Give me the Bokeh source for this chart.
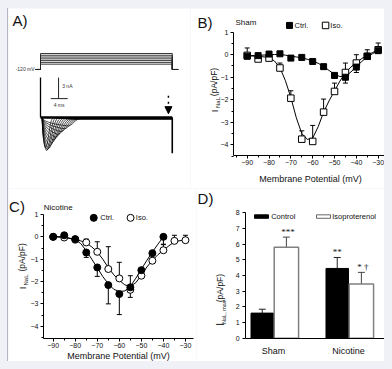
import math
from bokeh.plotting import figure
from bokeh.layouts import column, row
from bokeh.models import (Range1d, FixedTicker, Label, LabelSet, Whisker, TeeHead,
                          ColumnDataSource, Arrow, NormalHead)
from bokeh.core.properties import value
from bokeh.transform import dodge
from bokeh.embed import file_html
from bokeh.resources import INLINE

FONT = "Liberation Sans"

# ---------------- Panel A: protocol + raw current traces ----------------
step_mv = [-90, -80, -70, -60, -50, -40, -30]
hold_mv = -120
pulse_ms = [0.0, 31.0]
trace_onset_ms = [0.4, 0.4, 0.4, 0.4, 0.4, 0.4, 0.4, 0.4, 0.4, 0.4, 0.4, 0.4]
trace_peak_ms = [1.2, 1.4, 1.6, 1.9, 2.2, 2.6, 3.0, 3.5, 4.1, 4.8, 5.6, 6.5]
trace_peak_nA = [-4.3, -4.7, -4.6, -4.4, -4.0, -3.6, -3.2, -2.8, -2.4, -2.0, -1.6, -1.2]
trace_end_ms = [3.0, 3.6, 4.2, 4.8, 5.4, 6.0, 6.6, 7.2, 7.8, 8.4, 9.0, 9.6]
trace_late_nA = [-0.05, -0.08, -0.1, -0.12, -0.14, -0.16, -0.18, -0.2, -0.2, -0.2, -0.18, -0.15]
cap_spike_nA = 5.7
tail_spike_nA = -5.1
scale_nA = 3
scale_ms = 4

# ---------------- Panel B: Sham I-V ----------------
b_mv = [-90, -85, -80, -75, -70, -65, -60, -55, -50, -45, -40, -35, -30]
b_ctrl = [-0.07, -0.04, 0.03, 0.04, -0.15, -0.12, -0.3, -0.53, -0.92, -1.0, -0.55, -0.07, 0.18]
b_ctrl_err = [0.03, 0.03, 0.03, 0.03, 0.05, 0.05, 0.06, 0.1, 0.12, 0.26, 0.24, 0.1, 0.1]
b_iso = [-0.03, -0.19, -0.15, -0.59, -1.93, -3.75, -3.85, -2.55, -1.63, -0.79, -0.37, -0.07, 0.22]
b_iso_err = [0.33, 0.05, 0.05, 0.22, 0.33, 0.37, 0.71, 0.58, 0.37, 0.42, 0.37, 0.29, 0.3]
b_fit_mv = [-90, -85, -80, -77.5, -75, -72.5, -70, -67.5, -65, -62.5, -60, -57.5, -55,
            -52.5, -50, -47.5, -45, -42.5, -40, -37.5, -35, -32.5, -30]
b_fit_iso = [-0.05, -0.07, -0.12, -0.28, -0.58, -1.15, -1.9, -2.8, -3.5, -3.76, -3.7, -3.2,
             -2.55, -2.05, -1.6, -1.17, -0.8, -0.55, -0.35, -0.17, -0.03, 0.1, 0.22]
b_fit_ctrl = [-0.04, -0.03, 0.0, 0.01, 0.01, -0.02, -0.06, -0.1, -0.14, -0.2, -0.28, -0.38,
              -0.52, -0.7, -0.87, -0.97, -0.95, -0.77, -0.52, -0.3, -0.1, 0.05, 0.18]

# ---------------- Panel C: Nicotine I-V ----------------
c_mv_ctrl = [-90, -85, -80, -75, -70, -65, -60, -55, -50, -45, -40]
c_ctrl = [0.0, 0.07, -0.1, -0.7, -1.37, -2.16, -2.56, -2.26, -1.49, -0.73, 0.0]
c_ctrl_err = [0.05, 0.05, 0.1, 0.22, 0.4, 0.84, 0.92, 0.45, 0.33, 0.25, 0.33]
c_mv_iso = [-90, -85, -80, -75, -70, -65, -60, -55, -50, -45, -40, -35, -30]
c_iso = [0.0, -0.03, -0.13, -0.25, -0.67, -1.44, -1.86, -2.37, -1.74, -1.07, -0.6, -0.18, -0.15]
c_iso_err = [0.1, 0.05, 0.05, 0.15, 0.45, 1.0, 0.72, 0.63, 0.3, 0.1, 0.25, 0.25, 0.22]
c_fit_ctrl_mv = [-90, -85, -80, -77.5, -75, -72.5, -70, -67.5, -65, -62.5, -60, -57.5, -55,
                 -52.5, -50, -47.5, -45, -42.5, -40]
c_fit_ctrl = [0.02, 0.0, -0.12, -0.3, -0.62, -1.0, -1.38, -1.78, -2.1, -2.35, -2.45, -2.42,
              -2.22, -1.85, -1.45, -1.05, -0.68, -0.33, 0.0]
c_fit_iso_mv = [-90, -85, -80, -77.5, -75, -72.5, -70, -67.5, -65, -62.5, -60, -57.5, -55,
                -52.5, -50, -47.5, -45, -42.5, -40, -37.5, -35, -32.5, -30]
c_fit_iso = [0.0, -0.03, -0.12, -0.18, -0.27, -0.45, -0.68, -1.0, -1.38, -1.7, -1.95, -2.15,
             -2.22, -2.05, -1.72, -1.35, -1.05, -0.8, -0.6, -0.4, -0.22, -0.17, -0.15]

# ---------------- Panel D: peak INaL bars ----------------
d_groups = ["Sham", "Nicotine"]
d_ctrl = [1.6, 4.45]
d_ctrl_err = [0.25, 0.7]
d_iso = [5.8, 3.45]
d_iso_err = [0.65, 0.75]
d_ctrl_sig = ["", "**"]
d_iso_sig = ["***", "* \u2020"]


def base_fig(**kw):
    p = figure(output_backend="svg", toolbar_location=None, min_border=0, **kw)
    p.grid.visible = False
    p.outline_line_color = None
    p.background_fill_color = "white"
    p.border_fill_color = "white"
    return p


def style_axes(p, x_at, y_at, xb, yb):
    for ax in p.axis:
        ax.axis_line_color = "black"
        ax.axis_line_width = 1
        ax.major_tick_line_color = "black"
        ax.minor_tick_line_color = "black"
        ax.major_tick_out = 3
        ax.major_tick_in = 0
        ax.minor_tick_out = 2
        ax.minor_tick_in = 0
        ax.major_label_text_font = FONT
        ax.major_label_text_font_size = "7px"
        ax.major_label_text_color = "#111111"
        ax.major_label_standoff = 2
    p.xaxis.fixed_location = x_at
    p.yaxis.fixed_location = y_at
    p.xaxis.bounds = xb
    p.yaxis.bounds = yb


def txt(p, x, y, text, size, align="left", baseline="middle", angle=0.0, color="#111111"):
    p.add_layout(Label(x=x, y=y, text=text, text_font=FONT, text_font_size=size,
                       text_align=align, text_baseline=baseline, angle=angle,
                       text_color=color))


# ======================= Panel A =======================
pa = base_fig(width=182, height=180, x_range=Range1d(-7.53, 35.29),
              y_range=Range1d(-10.14, 15.57), x_axis_type=None, y_axis_type=None)
pa.extra_y_ranges = {"mv": Range1d(-789.4, 223.1)}
pre_ms, post_ms = pulse_ms[0] - 1.2, pulse_ms[1] + 1.4
pa.multi_line(xs=[[pre_ms, pulse_ms[0], pulse_ms[0], pulse_ms[1], pulse_ms[1], post_ms]
                  for _ in step_mv],
              ys=[[hold_mv, hold_mv, v, v, hold_mv, hold_mv] for v in step_mv],
              y_range_name="mv", line_color="#222222", line_width=0.9)
pa.add_layout(Label(x=pre_ms - 0.2, y=hold_mv, y_range_name="mv", text="-120 mV",
                    text_font=FONT, text_font_size="5px", text_align="right",
                    text_baseline="middle", text_color="#333333"))

src_tr = ColumnDataSource(dict(
    on=trace_onset_ms, pk=trace_peak_ms, pi=trace_peak_nA, en=trace_end_ms, late=trace_late_nA,
    zero=[0.0] * len(trace_peak_ms),
    c0x=[o + 0.1 for o in trace_onset_ms],
    c0y=[v * 0.7 for v in trace_peak_nA],
    c1x=[t - 0.25 for t in trace_peak_ms],
    r0x=[t + 0.35 * (e - t) for t, e in zip(trace_peak_ms, trace_end_ms)],
    r1x=[e - 0.5 * (e - t) for t, e in zip(trace_peak_ms, trace_end_ms)],
    fin=[pulse_ms[1]] * len(trace_peak_ms),
))
pa.bezier(x0="on", y0="zero", x1="pk", y1="pi", cx0="c0x", cy0="c0y", cx1="c1x", cy1="pi",
          source=src_tr, line_color="black", line_width=0.7)
pa.bezier(x0="pk", y0="pi", x1="en", y1="late", cx0="r0x", cy0="pi", cx1="r1x", cy1="late",
          source=src_tr, line_color="black", line_width=0.7)
pa.segment(x0="en", y0="late", x1="fin", y1="late", source=src_tr, line_color="black",
           line_width=0.7)
pa.line(x=pulse_ms, y=[0, 0], line_color="black", line_width=2.5)
pa.segment(x0=[pulse_ms[0]], y0=[0], x1=[pulse_ms[0]], y1=[cap_spike_nA],
           line_color="black", line_width=1.3)
pa.segment(x0=[pulse_ms[1]], y0=[0], x1=[pulse_ms[1]], y1=[tail_spike_nA],
           line_color="black", line_width=1.6)
# scale bar
sb_t, sb_i = 2.4, 2.7
pa.segment(x0=[sb_t], y0=[sb_i], x1=[sb_t + scale_ms], y1=[sb_i], line_color="#222222",
           line_width=1)
pa.segment(x0=[sb_t + 1.85], y0=[sb_i], x1=[sb_t + 1.85], y1=[sb_i + scale_nA],
           line_color="#222222", line_width=1)
txt(pa, sb_t + 2.7, sb_i + 1.85, f"{scale_nA} nA", "5px", color="#333333")
txt(pa, sb_t + 0.7, sb_i - 0.85, f"{scale_ms} ms", "5px", color="#333333")
pa.add_layout(Arrow(end=NormalHead(size=7, fill_color="black", line_color="black"),
                    x_start=30.1, y_start=3.1, x_end=30.1, y_end=0.55,
                    line_dash="dotted", line_width=1.5, line_color="black"))
txt(pa, -6.6, 15.0, "A)", "15px", baseline="top")

# ======================= Panel B =======================
pb = base_fig(width=202, height=180, x_range=Range1d(-115.97, -23.44),
              y_range=Range1d(-5.94, 2.052))
style_axes(pb, x_at=-4.47, y_at=-96.3, xb=(-96.3, -25.7), yb=(-4.47, 1.0))
pb.xaxis.ticker = FixedTicker(ticks=[-90, -80, -70, -60, -50, -40, -30],
                              minor_ticks=[-95, -85, -75, -65, -55, -45, -35])
pb.yaxis.ticker = FixedTicker(ticks=[-4, -3, -2, -1, 0, 1],
                              minor_ticks=[-4.5, -3.5, -2.5, -1.5, -0.5, 0.5])

src_b = ColumnDataSource(dict(
    x=b_mv, c=b_ctrl, i=b_iso,
    c_lo=[v - e for v, e in zip(b_ctrl, b_ctrl_err)],
    i_hi=[v + e for v, e in zip(b_iso, b_iso_err)]))
pb.line(b_fit_mv, b_fit_iso, line_color="black", line_width=1)
pb.line(b_fit_mv, b_fit_ctrl, line_color="black", line_width=1)
pb.add_layout(Whisker(source=src_b, base="x", lower="i", upper="i_hi", dimension="height",
                      upper_head=TeeHead(size=5, line_color="black", line_width=1),
                      lower_head=None, line_color="black", line_width=1))
pb.add_layout(Whisker(source=src_b, base="x", lower="c_lo", upper="c", dimension="height",
                      lower_head=TeeHead(size=5, line_color="black", line_width=1),
                      upper_head=None, line_color="black", line_width=1))
pb.scatter("x", "i", source=src_b, marker="square", size=6.5, fill_color="white",
           line_color="black", line_width=1)
pb.scatter("x", "c", source=src_b, marker="square", size=6, fill_color="black",
           line_color="black")
# title + legend
txt(pb, -95.4, 1.43, "Sham", "8px")
pb.scatter(x=[-70.6], y=[1.30], marker="square", size=6, fill_color="black", line_color="black")
pb.scatter(x=[-54.1], y=[1.30], marker="square", size=6.5, fill_color="white",
           line_color="black")
txt(pb, -68.3, 1.30, "Ctrl.", "7.5px")
txt(pb, -51.9, 1.30, "Iso.", "7.5px")
txt(pb, -112.8, 1.83, "B)", "15px", baseline="top")
txt(pb, -105.2, -2.50, "I", "9.5px", align="center", angle=math.pi / 2)
txt(pb, -103.5, -2.12, "NaL", "6px", align="center", angle=math.pi / 2)
txt(pb, -105.2, -1.21, "(pA/pF)", "8.5px", align="center", angle=math.pi / 2)
txt(pb, -61.0, -5.50, "Membrane Potential (mV)", "9px", align="center")

# ======================= Panel C =======================
pc = base_fig(width=188, height=173, x_range=Range1d(-110.27, -24.99),
              y_range=Range1d(-5.58, 2.164))
style_axes(pc, x_at=-4.55, y_at=-94.4, xb=(-94.4, -26.4), yb=(-4.55, 1.0))
pc.xaxis.ticker = FixedTicker(ticks=[-90, -80, -70, -60, -50, -40, -30],
                              minor_ticks=[-85, -75, -65, -55, -45, -35])
pc.yaxis.ticker = FixedTicker(ticks=[-4, -3, -2, -1, 0, 1],
                              minor_ticks=[-4.5, -3.5, -2.5, -1.5, -0.5, 0.5])

src_cc = ColumnDataSource(dict(x=c_mv_ctrl, y=c_ctrl,
                               lo=[v - e for v, e in zip(c_ctrl, c_ctrl_err)]))
src_ci = ColumnDataSource(dict(x=c_mv_iso, y=c_iso,
                               hi=[v + e for v, e in zip(c_iso, c_iso_err)]))
pc.line(c_fit_iso_mv, c_fit_iso, line_color="black", line_width=1)
pc.line(c_fit_ctrl_mv, c_fit_ctrl, line_color="black", line_width=1)
pc.add_layout(Whisker(source=src_ci, base="x", lower="y", upper="hi", dimension="height",
                      upper_head=TeeHead(size=5, line_color="black", line_width=1),
                      lower_head=None, line_color="black", line_width=1))
pc.add_layout(Whisker(source=src_cc, base="x", lower="lo", upper="y", dimension="height",
                      lower_head=TeeHead(size=5, line_color="black", line_width=1),
                      upper_head=None, line_color="black", line_width=1))
pc.scatter("x", "y", source=src_ci, marker="circle", size=7, fill_color="white",
           line_color="black", line_width=1)
pc.scatter("x", "y", source=src_cc, marker="circle", size=7, fill_color="black",
           line_color="black")
txt(pc, -94.3, 1.33, "Nicotine", "8px")
pc.scatter(x=[-71.6], y=[0.85], marker="circle", size=7, fill_color="black", line_color="black")
pc.scatter(x=[-54.9], y=[0.85], marker="circle", size=7, fill_color="white", line_color="black")
txt(pc, -68.6, 0.85, "Ctrl.", "7.5px")
txt(pc, -52.5, 0.85, "Iso.", "7.5px")
txt(pc, -110.0, 1.72, "C)", "15px", baseline="top")
txt(pc, -104.1, -2.29, "I", "9.5px", align="center", angle=math.pi / 2)
txt(pc, -102.5, -1.93, "NaL", "6px", align="center", angle=math.pi / 2)
txt(pc, -104.1, -0.92, "(pA/pF)", "8.5px", align="center", angle=math.pi / 2)
txt(pc, -60.4, -5.33, "Membrane Potential (mV)", "9px", align="center")

# ======================= Panel D =======================
pd_ = base_fig(width=196, height=173, x_range=Range1d(-1.027, 1.587),
               y_range=Range1d(-1.486, 9.55))
style_axes(pd_, x_at=0, y_at=-0.373, xb=(-0.373, 1.52), yb=(0, 8.05))
idx = list(range(len(d_groups)))
pd_.xaxis.ticker = FixedTicker(ticks=idx)
pd_.xaxis.major_label_overrides = {i: g for i, g in zip(idx, d_groups)}
pd_.xaxis.major_tick_line_color = None
pd_.xaxis.minor_tick_line_color = None
pd_.xaxis.major_label_text_font_size = "9px"
pd_.xaxis.major_label_standoff = 5
pd_.yaxis.ticker = FixedTicker(ticks=list(range(0, 9)), minor_ticks=[])
pd_.yaxis.major_label_standoff = 3

src_d = ColumnDataSource(dict(
    x=idx, c=d_ctrl, i=d_iso,
    c_hi=[v + e for v, e in zip(d_ctrl, d_ctrl_err)],
    i_hi=[v + e for v, e in zip(d_iso, d_iso_err)],
    c_sy=[v + e + 0.15 for v, e in zip(d_ctrl, d_ctrl_err)],
    i_sy=[v + e + 0.15 for v, e in zip(d_iso, d_iso_err)],
    c_sig=d_ctrl_sig, i_sig=d_iso_sig))
off_c, off_i = -0.15, 0.172
pd_.add_layout(Whisker(source=src_d, base=dodge("x", off_c, range=pd_.x_range), lower="c",
                       upper="c_hi", dimension="height",
                       upper_head=TeeHead(size=7, line_color="#222222", line_width=1),
                       lower_head=None, line_color="#222222", line_width=1))
pd_.add_layout(Whisker(source=src_d, base=dodge("x", off_i, range=pd_.x_range), lower="i",
                       upper="i_hi", dimension="height",
                       upper_head=TeeHead(size=7, line_color="#444444", line_width=1),
                       lower_head=None, line_color="#444444", line_width=1))
pd_.vbar(x=dodge("x", off_c, range=pd_.x_range), top="c", bottom=0, width=0.30, source=src_d,
         fill_color="black", line_color="black", line_width=1)
pd_.vbar(x=dodge("x", off_i, range=pd_.x_range), top="i", bottom=0, width=0.325, source=src_d,
         fill_color="white", line_color="#808080", line_width=1.5)
pd_.add_layout(LabelSet(x=dodge("x", off_c, range=pd_.x_range), y="c_sy", text="c_sig",
                        source=src_d, text_font=FONT, text_font_size="9px",
                        text_align="center", text_baseline="alphabetic",
                        text_color="#111111"))
pd_.add_layout(LabelSet(x=dodge("x", off_i + 0.02, range=pd_.x_range), y="i_sy", text="i_sig",
                        source=src_d, text_font=FONT, text_font_size="9px",
                        text_align="center", text_baseline="alphabetic",
                        text_color="#111111"))
# legend
pd_.rect(x=[-0.16], y=[7.76], width=[0.187], height=[0.22], fill_color="black",
         line_color="black")
pd_.rect(x=[0.667], y=[7.76], width=[0.187], height=[0.22], fill_color="white",
         line_color="#666666", line_width=1)
txt(pd_, -0.031, 7.76, "Control", "7.5px")
txt(pd_, 0.783, 7.76, "Isoproterenol", "7.5px")
txt(pd_, -1.013, 9.45, "D)", "15px", baseline="top")
txt(pd_, -0.713, 0.88, "I", "10px", align="center", angle=math.pi / 2)
txt(pd_, -0.662, 1.66, "NaL, max", "5.5px", align="center", angle=math.pi / 2)
txt(pd_, -0.713, 3.20, "(pA/pF)", "8.5px", align="center", angle=math.pi / 2)

layout = column(row(pa, pb), row(pc, pd_))
html = file_html(layout, INLINE, title="INaL figure")
html = html.replace(
    "</head>",
    "<style>html{background:#eff1f6;}body{margin:8px !important;height:auto !important;"
    "background:#eff1f6;box-shadow:-1px 0 0 #b4b8c2;}</style></head>", 1)
open("out.html", "w").write(html)
